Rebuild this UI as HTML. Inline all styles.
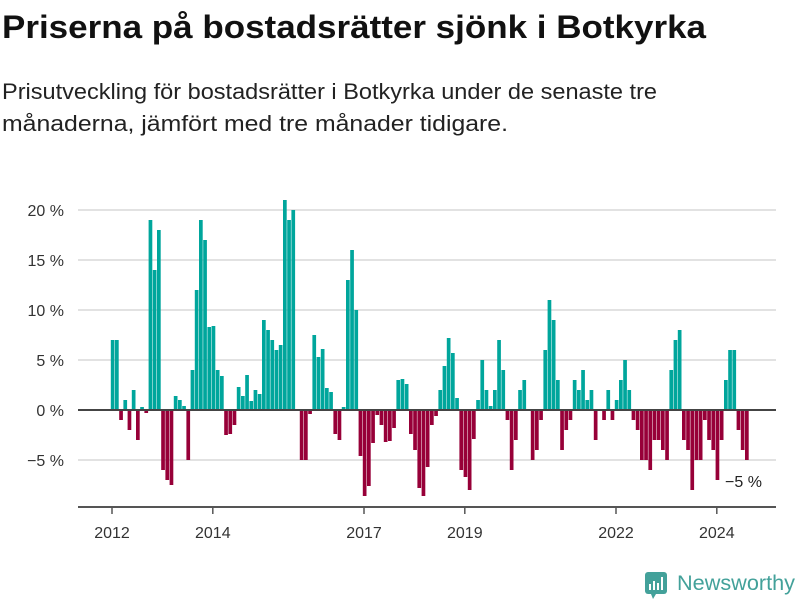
<!DOCTYPE html>
<html><head><meta charset="utf-8"><style>
body{margin:0;width:800px;height:600px;background:#fff;overflow:hidden;font-family:"Liberation Sans",sans-serif;}
</style></head><body>
<svg width="800" height="600" style="position:absolute;left:0;top:0">
<text x="2" y="38" font-size="32" font-weight="bold" fill="#111" textLength="704" lengthAdjust="spacingAndGlyphs">Priserna på bostadsrätter sjönk i Botkyrka</text>
<text x="2" y="99" font-size="22" fill="#222" textLength="655" lengthAdjust="spacingAndGlyphs">Prisutveckling för bostadsrätter i Botkyrka under de senaste tre</text>
<text x="2" y="131" font-size="22" fill="#222" textLength="506" lengthAdjust="spacingAndGlyphs">månaderna, jämfört med tre månader tidigare.</text>
<g id="grid"></g><g id="bars"></g><g id="axis"></g>
<g>
<rect x="645" y="572" width="22" height="22" rx="3" fill="#43a19a"/>
<polygon points="651,594 656,594 653,599" fill="#43a19a"/>
<rect x="649" y="584" width="2" height="6" fill="#fff"/><rect x="653" y="581" width="2" height="9" fill="#fff"/><rect x="657" y="583" width="2" height="7" fill="#fff"/><rect x="661" y="577" width="2" height="13" fill="#fff"/>
<text x="677" y="590" font-size="21" fill="#43a19a" textLength="118" lengthAdjust="spacingAndGlyphs">Newsworthy</text>
</g>
</svg>
<script>
const startYear = 2012;
const values = [
7,7,-1,1,-2,2,-3,0.3,-0.3,19,14,18,
-6,-7,-7.5,1.4,1,0.4,-5,4,12,19,17,8.3,
8.4,4,3.4,-2.5,-2.4,-1.5,2.3,1.4,3.5,0.9,2,1.6,
9,8,7,6,6.5,21,19,20,0,-5,-5,-0.4,
7.5,5.3,6.1,2.2,1.8,-2.4,-3,0.3,13,16,10,-4.6,
-8.6,-7.6,-3.3,-0.5,-1.5,-3.2,-3.1,-1.8,3,3.1,2.6,-2.4,
-4,-7.8,-8.6,-5.7,-1.5,-0.6,2,4.4,7.2,5.7,1.2,-6,
-6.7,-8,-2.9,1,5,2,0.4,2,7,4,-1,-6,
-3,2,3,0,-5,-4,-1,6,11,9,3,-4,
-2,-1,3,2,4,1,2,-3,0,-1,2,-1,
1,3,5,2,-1,-2,-5,-5,-6,-3,-3,-4,
-5,4,7,8,-3,-4,-8,-5,-5,-1,-3,-4,
-7,-3,3,6,6,-2,-4,-5
];
const yTicks = [-5,0,5,10,15,20];
const xTickYears = [2012,2014,2017,2019,2022,2024];
const lastLabel = "−5 %";
const NS='http://www.w3.org/2000/svg';
const xMonth = i => 110.8 + i*4.2;
const xYear = y => 112 + (y-startYear)*12*4.2;
const yVal = v => 410 - v*10;
function mk(tag, attrs, parent){const e=document.createElementNS(NS,tag);for(const k in attrs)e.setAttribute(k,attrs[k]);parent.appendChild(e);return e;}
const grid=document.getElementById('grid'), bars=document.getElementById('bars'), axis=document.getElementById('axis');
yTicks.forEach(t=>{
  if(t!==0){const l=mk('line',{x1:78,x2:776,y1:yVal(t),y2:yVal(t),stroke:'#e2e2e2','stroke-width':2},grid);
  
  }
  const tx=mk('text',{x:64,y:yVal(t)+6,'text-anchor':'end','font-size':16,fill:'#333'},grid);
  tx.textContent=(t<0?'−'+(-t):t)+' %';
  
  
});
values.forEach((v,i)=>{
  const y=Math.min(yVal(v),yVal(0)), h=Math.abs(yVal(v)-yVal(0));
  const r=mk('rect',{x:xMonth(i),y:y,width:3.7,height:h,fill:v>=0?'#00a69c':'#970038'},bars);
  
  
});
const z=mk('line',{x1:78,x2:776,y1:yVal(0),y2:yVal(0),stroke:'#444','stroke-width':2},axis);


const xa=mk('line',{x1:78,x2:776,y1:507,y2:507,stroke:'#555','stroke-width':2},axis);


xTickYears.forEach(yr=>{
  const x=xYear(yr);
  mk('line',{x1:x,x2:x,y1:507,y2:514,stroke:'#555','stroke-width':1.5},axis);
  const t=mk('text',{x:x,y:538,'text-anchor':'middle','font-size':16,fill:'#333'},axis);
  t.textContent=yr;
  
  
});
const li=values.length-1;
const ll=mk('text',{x:xMonth(li)-20,y:yVal(values[li])+27,'font-size':16,fill:'#222'},axis);
ll.textContent=lastLabel;


</script>
</body></html>
